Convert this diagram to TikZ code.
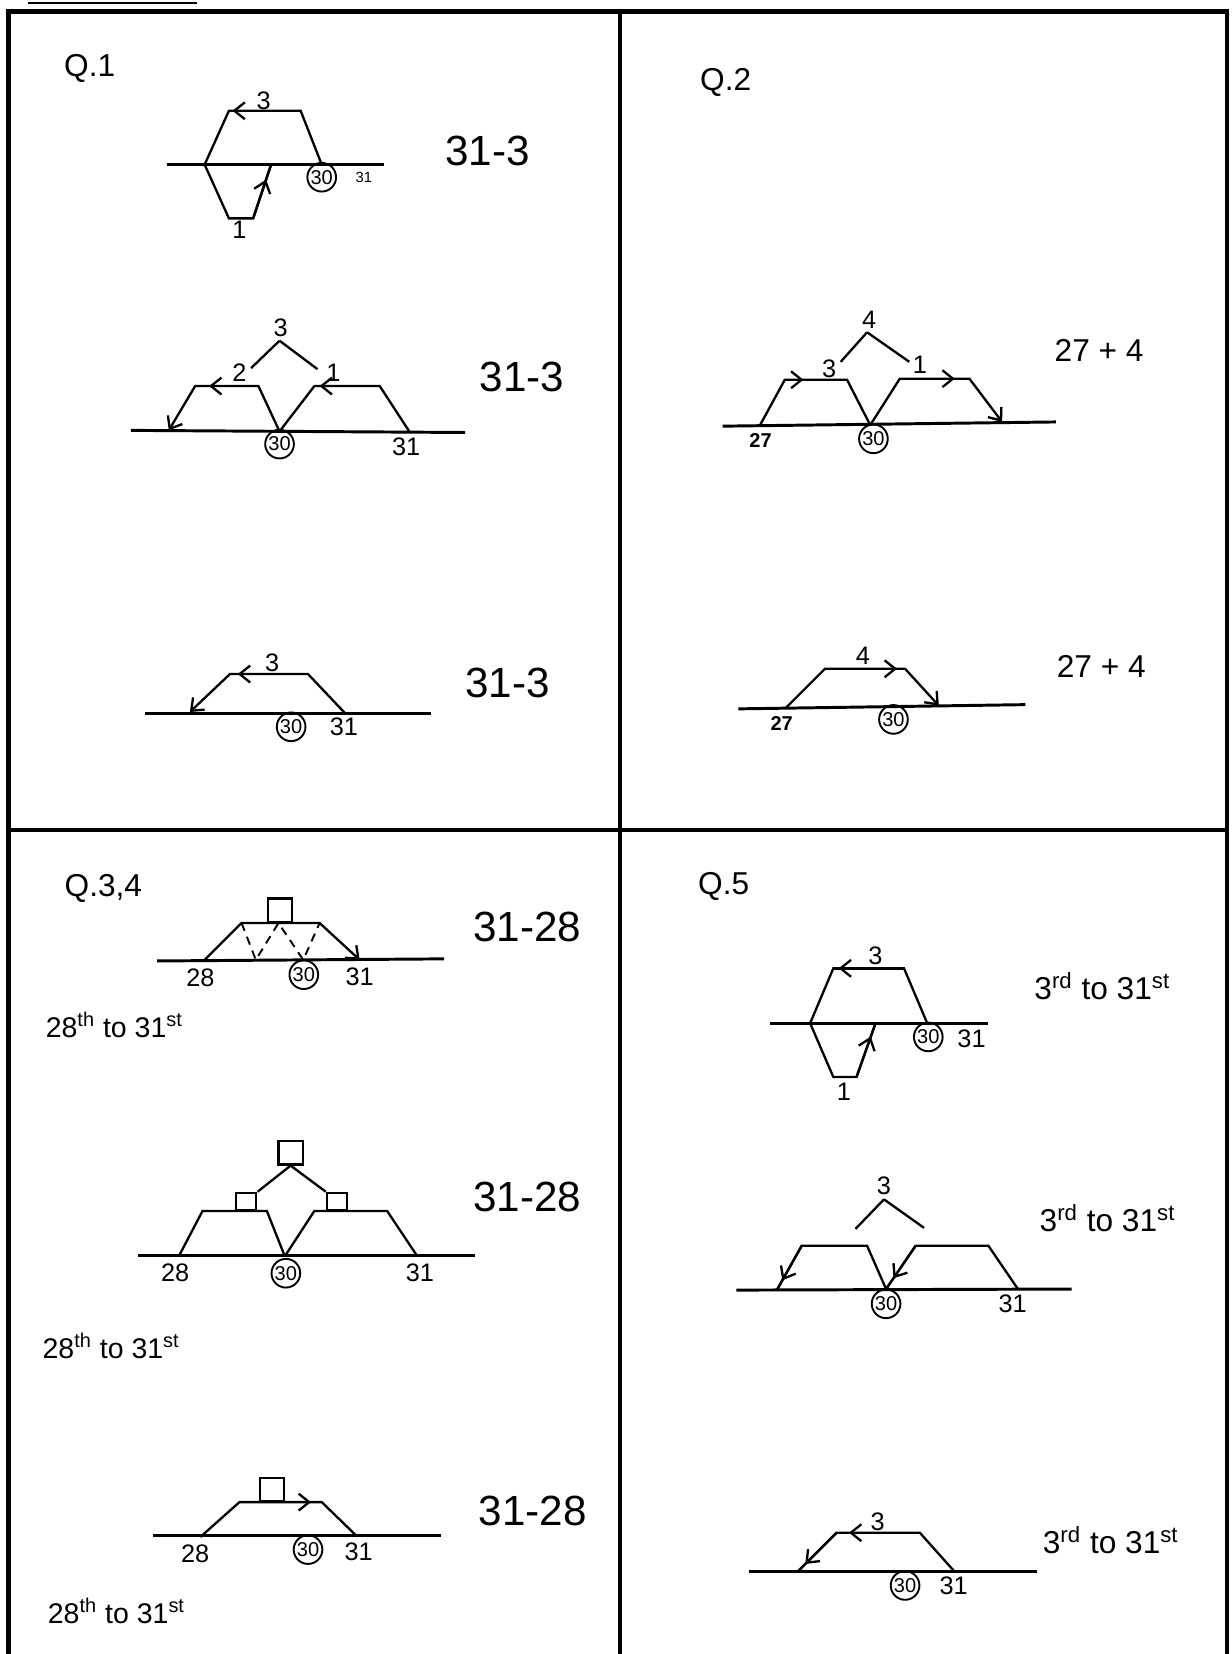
\documentclass[tikz,border=0pt]{standalone}
\usepackage{fontspec}
\setmainfont{Liberation Sans}
\usetikzlibrary{arrows.meta,decorations.markings}
\begin{document}
\begin{tikzpicture}[x=0.5pt,y=-0.5pt,
  ln/.style={line width=1.1pt, line join=miter},
  base/.style={line width=1.4pt},
  frame/.style={line width=2pt},
  tipa/.style={-{Straight Barb[length=5pt,width=8pt]}},
  marr/.style={postaction={decorate,decoration={markings,mark=at position #1 with {\arrow{Straight Barb[length=5pt,width=8pt]}}}}},
  big/.style={font=\fontsize{20}{22}\selectfont, inner sep=0pt},
  midt/.style={font=\fontsize{15}{17}\selectfont, inner sep=0pt},
  smt/.style={font=\fontsize{13.5}{15}\selectfont, inner sep=0pt, anchor=west},
  lab/.style={font=\fontsize{12}{13}\selectfont, inner sep=1pt},
  bl/.style={font=\fontsize{9.5}{10}\selectfont\bfseries, inner sep=1pt},
  tiny/.style={font=\fontsize{7}{8}\selectfont, inner sep=1pt},
  c30/.style={circle, draw, line width=0.9pt, inner sep=0.4pt, font=\fontsize{9.5}{10}\selectfont},
  sq/.style={draw, line width=1.1pt, minimum width=11.5pt, minimum height=11pt, inner sep=0pt, anchor=south}
]
\useasboundingbox[fill=white] (0,0) rectangle (1167,1568);

% header underline and frame
\draw[line width=1pt] (27,3) -- (187,3);
\draw[frame] (8,1568) -- (8,11) -- (1163,11) -- (1163,1568);
\draw[frame] (588,11) -- (588,1568);
\draw[frame] (8,787) -- (1163,787);

% ================= Q.1 =================
\node[midt] (q1) at (85,65) {Q.1};
% diagram 1
\draw[base] (158,156) -- (364,156);
\draw[ln] (194,156) -- (217,105) -- (285,105) -- (305,156);
\draw[ln, marr=0.95] (285,105) -- (217,105);
\draw[ln] (194,156) -- (217,207) -- (240,207) -- (257,156);
\draw[ln, marr=0.72] (240,207) -- (257,156);
\node[lab] (q1a3) at (250,96) {3};
\node[lab] (q1a1) at (227,218) {1};
\node[c30] (q1a30) at (305,168) {30};
\node[tiny] (q1a31) at (345,168) {31};
\node[big] (q1ar) at (462,143) {31-3};
% diagram 2
\node[lab] (q1b3) at (266,311) {3};
\draw[ln] (265,323) -- (238,349);
\draw[ln] (265,323) -- (301,350);
\node[lab] (q1b2) at (227,353) {2};
\node[lab] (q1b1) at (316,353) {1};
\draw[base] (124,408) -- (441,410);
\draw[ln, tipa] (265,409) -- (245,366) -- (185,366) -- (160,408);
\draw[ln, marr=0.78] (245,366) -- (185,366);
\draw[ln] (388,409) -- (360,366) -- (298,366) -- (265,409);
\draw[ln, marr=0.92] (360,366) -- (298,366);
\node[c30] (q1b30) at (265,421) {30};
\node[lab] (q1b31) at (385,424) {31};
\node[big] (q1br) at (495,357) {31-3};
% diagram 3
\node[lab] (q1c3) at (258,628) {3};
\draw[base] (137,676) -- (409,676);
\draw[ln, tipa] (327,676) -- (292,639) -- (218,639) -- (180,675);
\draw[ln, marr=0.9] (292,639) -- (218,639);
\node[c30] (q1c30) at (276,689) {30};
\node[lab] (q1c31) at (326,689) {31};
\node[big] (q1cr) at (481,647) {31-3};

% ================= Q.2 =================
\node[midt] (q2) at (688,78) {Q.2};
% diagram 1
\node[lab] (q2a4) at (824,303) {4};
\draw[ln] (822,315) -- (797,343);
\draw[ln] (822,315) -- (862,343);
\node[lab] (q2a3) at (786,350) {3};
\node[lab] (q2a1) at (872,346) {1};
\draw[base] (685,404) -- (1001,400);
\draw[ln] (720,404) -- (744,360) -- (803,360) -- (825,403);
\draw[ln, marr=0.3] (744,360) -- (803,360);
\draw[ln, tipa] (825,403) -- (853,359) -- (919,359) -- (950,400);
\draw[ln, marr=0.79] (853,359) -- (919,359);
\node[bl] (q2a27) at (721,418) {27};
\node[c30] (q2a30) at (828,416) {30};
\node[midt] (q2ar) at (1042,332) {27 + 4};
% diagram 2
\node[lab] (q2b4) at (818,622) {4};
\draw[base] (700,672) -- (972,668);
\draw[ln, tipa] (745,671) -- (782,634) -- (858,634) -- (890,669);
\draw[ln, marr=0.9] (782,634) -- (858,634);
\node[bl] (q2b27) at (741,686) {27};
\node[c30] (q2b30) at (847,682) {30};
\node[midt] (q2br) at (1044,632) {27 + 4};

% ================= Q.3,4 =================
\node[midt] (q3) at (98,842) {Q.3,4};
% diagram 1
\draw[base] (149,911) -- (421,909);
\draw[ln, tipa] (194,910) -- (229,875) -- (303,875) -- (341,910);
\node[sq] (q3asq) at (265.5,875) {};
\draw[line width=0.9pt, dashed, dash pattern=on 4pt off 3pt] (229,875) -- (242.5,910) -- (264,875) -- (287.5,910) -- (303,875);
\node[lab] (q3a28) at (190,927) {28};
\node[c30] (q3a30) at (288,924) {30};
\node[lab] (q3a31) at (341,926) {31};
\node[big] (q3ar) at (500,879) {31-28};
\node[smt] (q3at) at (43,972) {28\textsuperscript{th} to 31\textsuperscript{st}};
% diagram 2
\node[sq] (q3btop) at (275.5,1105) {};
\node[sq, minimum width=9.5pt, minimum height=8pt] (q3bl) at (233.5,1148) {};
\node[sq, minimum width=9.5pt, minimum height=8pt] (q3br2) at (319.5,1148) {};
\draw[ln] (q3btop.south) -- (q3bl.north east);
\draw[ln] (q3btop.south) -- (q3br2.north west);
\draw[base] (131,1190) -- (450,1190);
\draw[ln] (170,1190) -- (192,1148) -- (253,1148) -- (270,1191);
\draw[ln] (270,1191) -- (298,1148) -- (367,1148) -- (395,1190);
\node[lab] (q3b28) at (166,1207) {28};
\node[c30] (q3b30) at (271,1207) {30};
\node[lab] (q3b31) at (398,1207) {31};
\node[big] (q3br) at (500,1135) {31-28};
\node[smt] (q3bt) at (40,1276) {28\textsuperscript{th} to 31\textsuperscript{st}};
% diagram 3
\node[sq] (q3csq) at (258,1424) {};
\draw[base] (145,1456) -- (418,1456);
\draw[ln] (190,1457) -- (227,1424) -- (305,1424) -- (338,1456);
\draw[ln, marr=0.87] (227,1424) -- (305,1424);
\node[lab] (q3c28) at (185,1473) {28};
\node[c30] (q3c30) at (292,1469) {30};
\node[lab] (q3c31) at (340,1471) {31};
\node[big] (q3cr) at (505,1432) {31-28};
\node[smt] (q3ct) at (45,1527) {28\textsuperscript{th} to 31\textsuperscript{st}};

% ================= Q.5 =================
\node[midt] (q5) at (686,840) {Q.5};
% diagram 1
\draw[base] (730,970) -- (937,970);
\draw[ln] (768,970) -- (790,918) -- (857,918) -- (879,970);
\draw[ln, marr=0.925] (857,918) -- (790,918);
\draw[ln] (768,970) -- (790,1021) -- (812,1021) -- (830,970);
\draw[ln, marr=0.75] (812,1021) -- (830,970);
\node[lab] (q5a3) at (830,906) {3};
\node[lab] (q5a1) at (800,1035) {1};
\node[c30] (q5a30) at (880,983) {30};
\node[lab] (q5a31) at (921,985) {31};
\node[midt] (q5ar) at (1045,935) {3\textsuperscript{rd} to 31\textsuperscript{st}};
% diagram 2
\node[lab] (q5b3) at (838,1124) {3};
\draw[ln] (838,1137) -- (811,1165);
\draw[ln] (838,1137) -- (876,1164);
\draw[base] (698,1223) -- (1016,1222);
\draw[ln] (840,1222) -- (822,1181) -- (760,1181) -- (737,1222);
\draw[ln, marr=0.8] (760,1181) -- (737,1222);
\draw[ln] (965,1222) -- (937,1181) -- (868,1181) -- (840,1222);
\draw[ln, marr=0.75] (868,1181) -- (840,1222);
\node[c30] (q5b30) at (840,1236) {30};
\node[lab] (q5b31) at (960,1236) {31};
\node[midt] (q5br) at (1050,1155) {3\textsuperscript{rd} to 31\textsuperscript{st}};
% diagram 3
\node[lab] (q5c3) at (832,1443) {3};
\draw[base] (710,1490) -- (983,1490);
\draw[ln] (905,1490) -- (872,1453) -- (793,1453) -- (756,1490);
\draw[ln, marr=0.85] (872,1453) -- (793,1453);
\draw[ln, marr=0.8] (793,1453) -- (756,1490);
\node[c30] (q5c30) at (858,1503) {30};
\node[lab] (q5c31) at (904,1503) {31};
\node[midt] (q5cr) at (1053,1460) {3\textsuperscript{rd} to 31\textsuperscript{st}};
\end{tikzpicture}
\end{document}
